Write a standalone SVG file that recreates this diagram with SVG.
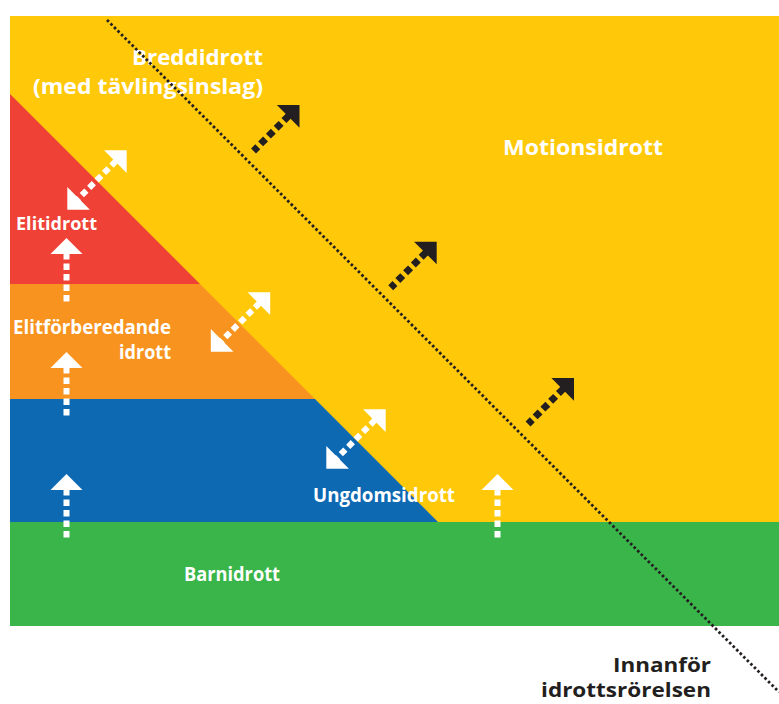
<svg xmlns="http://www.w3.org/2000/svg" xmlns:xlink="http://www.w3.org/1999/xlink" width="779" height="704" viewBox="0 0 779 704">
  <style>
    .lbl { font-family: "Open Sans", Lato, "Liberation Sans", sans-serif; font-weight: 700; fill: #ffffff; }
    .dark { fill: #231f20; }
    .wshaft { stroke: #ffffff; stroke-width: 6; stroke-dasharray: 6.5 4; fill: none; }
    .bshaft { stroke: #231f20; stroke-width: 7; stroke-dasharray: 7 4; fill: none; }
  </style>
  <defs>
    <g id="upW">
      <polygon points="0,0 16,16 -16,16" fill="#ffffff"/>
      <line class="wshaft" x1="0" y1="15" x2="0" y2="64"/>
    </g>
    <g id="upB">
      <polygon points="0,0 16,16 -16,16" fill="#231f20"/>
      <line class="bshaft" x1="0" y1="15" x2="0" y2="65"/>
    </g>
    <g id="dblW">
      <polygon points="0,-42 16,-26 -16,-26" fill="#ffffff"/>
      <polygon points="0,42 16,26 -16,26" fill="#ffffff"/>
      <line class="wshaft" x1="0" y1="-27" x2="0" y2="27"/>
    </g>
  </defs>

  <rect width="779" height="704" fill="#ffffff"/>

  <g id="motionsidrott">
    <rect x="10" y="16" width="769" height="507" fill="#ffc90a"/>
    <text class="lbl" x="583" y="155" font-size="21" text-anchor="middle" textLength="160" lengthAdjust="spacingAndGlyphs">Motionsidrott</text>
  </g>
  <g id="breddidrott">
    <text class="lbl" x="263" y="65" font-size="21" text-anchor="end" textLength="131" lengthAdjust="spacingAndGlyphs">Breddidrott</text>
    <text class="lbl" x="263" y="94" font-size="21" text-anchor="end" textLength="230" lengthAdjust="spacingAndGlyphs">(med tävlingsinslag)</text>
  </g>
  <g id="elitidrott">
    <polygon points="10,94 200,284 10,284" fill="#ef4136"/>
    <text class="lbl" x="16" y="230" font-size="17.5" textLength="81" lengthAdjust="spacingAndGlyphs">Elitidrott</text>
  </g>
  <g id="elitforberedande">
    <polygon points="10,284 200,284 315,399 10,399" fill="#f7931e"/>
    <text class="lbl" x="13" y="334" font-size="19" textLength="158" lengthAdjust="spacingAndGlyphs">Elitförberedande</text>
    <text class="lbl" x="171" y="359" font-size="19" text-anchor="end" textLength="52" lengthAdjust="spacingAndGlyphs">idrott</text>
  </g>
  <g id="ungdomsidrott">
    <polygon points="10,399 315,399 438,522 10,522" fill="#0e69b3"/>
    <text class="lbl" x="313" y="502" font-size="19.5" textLength="142" lengthAdjust="spacingAndGlyphs">Ungdomsidrott</text>
  </g>
  <g id="barnidrott">
    <rect x="10" y="522" width="769" height="104" fill="#39b54a"/>
    <text class="lbl" x="184" y="581" font-size="19.5" textLength="96" lengthAdjust="spacingAndGlyphs">Barnidrott</text>
  </g>
  <g id="innanfor">
    <text class="lbl dark" x="711" y="672" font-size="20" text-anchor="end" textLength="98" lengthAdjust="spacingAndGlyphs">Innanför</text>
    <text class="lbl dark" x="711" y="697" font-size="20" text-anchor="end" textLength="170" lengthAdjust="spacingAndGlyphs">idrottsrörelsen</text>
  </g>

  <g id="connectors">
    <line x1="107" y1="20" x2="779" y2="692" stroke="#231f20" stroke-width="2.8" stroke-dasharray="2.6 2.4"/>
    <use xlink:href="#upW" href="#upW" transform="translate(66.5,238)"/>
    <use xlink:href="#upW" href="#upW" transform="translate(66.5,352)"/>
    <use xlink:href="#upW" href="#upW" transform="translate(66.5,474)"/>
    <use xlink:href="#upW" href="#upW" transform="translate(497.5,474)"/>
    <use xlink:href="#dblW" href="#dblW" transform="translate(97,180) rotate(45)"/>
    <use xlink:href="#dblW" href="#dblW" transform="translate(240.5,322) rotate(45)"/>
    <use xlink:href="#dblW" href="#dblW" transform="translate(356,439) rotate(45)"/>
    <use xlink:href="#upB" href="#upB" transform="translate(299.5,105) rotate(45)"/>
    <use xlink:href="#upB" href="#upB" transform="translate(436.7,241.7) rotate(45)"/>
    <use xlink:href="#upB" href="#upB" transform="translate(574,378) rotate(45)"/>
  </g>
</svg>
